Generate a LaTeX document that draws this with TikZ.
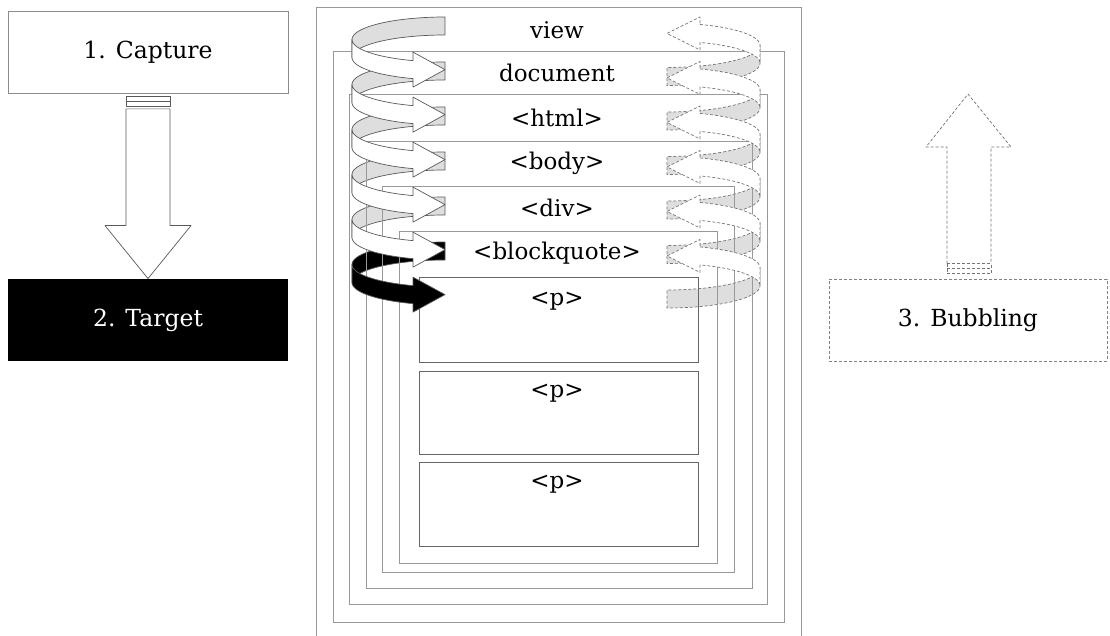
\documentclass[tikz,border=0pt]{standalone}
\usepackage{fontspec}
\setmainfont{DejaVu Serif}
\usetikzlibrary{calc}
\begin{document}
\begin{tikzpicture}[x=1pt,y=-1pt,
  lbl/.style={inner sep=0pt, font=\fontsize{23}{27}\selectfont},
  phase/.style={line width=0.8pt, minimum width=280pt, minimum height=82pt, inner sep=0pt, font=\fontsize{23.5}{28}\selectfont},
  frame/.style={draw=black!40, line width=1pt},
  pbox/.style={draw=black!60, line width=1pt},
  capline/.style={draw=black!65, line width=0.7pt, line join=round},
  bubline/.style={draw=black!55, line width=0.7pt, dash pattern=on 3pt off 2pt, line join=round},
]
\useasboundingbox (0,0) rectangle (1110,636);
\clip (0,0) rectangle (1110,636);

% phase boxes
\node[phase, draw=black!45] (capture) at (148,52.5) {1. Capture};
\node[phase, fill=black, text=white] (target) at (148,320) {2. Target};
\node[phase, draw=black!50, dash pattern=on 3pt off 2pt, minimum width=278pt] (bubbling) at (968,320) {3. Bubbling};

% capture arrow
\draw[capline] ($(capture.south)+(-22,2)$) rectangle ($(capture.south)+(22,7)$);
\draw[capline] ($(capture.south)+(-22,7)$) rectangle ($(capture.south)+(22,12)$);
\filldraw[capline, fill=white] ($(capture.south)+(-22,15)$) -- ($(target.north)+(-22,-53)$) -- ($(target.north)+(-43,-53)$) -- (target.north) -- ($(target.north)+(43,-53)$) -- ($(target.north)+(22,-53)$) -- ($(capture.south)+(22,15)$) -- cycle;

% bubbling arrow
\draw[bubline] ($(bubbling.north)+(-21,-15)$) rectangle ($(bubbling.north)+(23,-10)$);
\draw[bubline] ($(bubbling.north)+(-21,-10)$) rectangle ($(bubbling.north)+(23,-5)$);
\coordinate (btip) at (968,94);
\draw[bubline] ($(bubbling.north)+(-21,-15)$) -- ($(btip)+(-21,53)$) -- ($(btip)+(-42,53)$) -- (btip) -- ($(btip)+(43,53)$) -- ($(btip)+(23,53)$) -- ($(bubbling.north)+(23,-15)$);

% left spiral: back parts
\foreach \k in {0,...,5}{
  \pgfmathsetmacro{\yc}{48.5+45*\k}
  \ifnum\k=5 \def\fc{black}\else\def\fc{black!13}\fi
  \filldraw[capline, fill=\fc] plot[domain=90:180,samples=30] ({445+93*cos(\x)},{\yc-22.5*sin(\x)-9}) -- plot[domain=180:90,samples=30] ({445+93*cos(\x)},{\yc-22.5*sin(\x)+9}) -- cycle;
}
% right spiral: back parts
\foreach \j in {0,...,5}{
  \pgfmathsetmacro{\yc}{54.25+44.5*\j}
  \filldraw[bubline, fill=black!13] plot[domain=180:270,samples=30] ({667-93*cos(\x)},{\yc-22.25*sin(\x)-9}) -- plot[domain=270:180,samples=30] ({667-93*cos(\x)},{\yc-22.25*sin(\x)+9}) -- cycle;
}

% nested boxes
\draw[frame] (316,8) rectangle (801,645);
\draw[frame] (333,52) rectangle (784,622);
\draw[frame] (349,95) rectangle (767,604);
\draw[frame] (366,142) rectangle (752,588);
\draw[frame] (382,187) rectangle (734,572);
\draw[frame] (399,232) rectangle (717,563);
\draw[pbox] (419,277) rectangle (698,362);
\draw[pbox] (419,371) rectangle (698,454);
\draw[pbox] (419,462) rectangle (698,546);

\node[lbl] (lview) at (557,30) {view};
\node[lbl] (ldoc) at (557,73) {document};
\node[lbl] (lhtml) at (557,118) {<html>};
\node[lbl] (lbody) at (557,163) {<body>};
\node[lbl] (ldiv) at (557,208) {<div>};
\node[lbl] (lbq) at (557,253) {<blockquote>};
\node[lbl] (lp1) at (557,301) {<p>};
\node[lbl] (lp2) at (557,393) {<p>};
\node[lbl] (lp3) at (557,484) {<p>};

% left spiral: front parts
\foreach \k in {0,...,5}{
  \pgfmathsetmacro{\yc}{48.5+45*\k}
  \pgfmathsetmacro{\ye}{\yc+21.13}
  \ifnum\k=5 \def\fc{black}\else\def\fc{white}\fi
  \filldraw[capline, fill=\fc] plot[domain=180:249.9,samples=30] ({445+93*cos(\x)},{\yc-22.5*sin(\x)-9}) -- (413,\ye-17.5) -- (445,\ye) -- (413,\ye+17.5) -- plot[domain=249.9:180,samples=30] ({445+93*cos(\x)},{\yc-22.5*sin(\x)+9}) -- cycle;
}
% right spiral: front parts
\foreach \j in {0,...,5}{
  \pgfmathsetmacro{\yc}{54.25+44.5*\j}
  \pgfmathsetmacro{\ys}{\yc-20.8}
  \filldraw[bubline, fill=white] plot[domain=110.8:180,samples=30] ({667-93*cos(\x)},{\yc-22.25*sin(\x)-9}) -- plot[domain=180:110.8,samples=30] ({667-93*cos(\x)},{\yc-22.25*sin(\x)+9}) -- (700,\ys+16.5) -- (667,\ys) -- (700,\ys-16.5) -- cycle;
}
\end{tikzpicture}
\end{document}
